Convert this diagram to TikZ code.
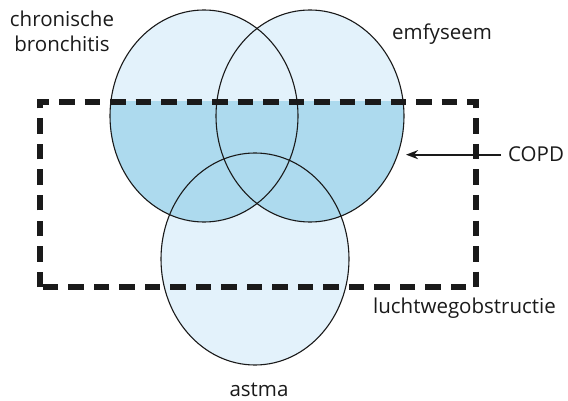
\documentclass[tikz,border=0pt]{standalone}
\usepackage{fontspec}
\setmainfont{Open Sans}
\usetikzlibrary{arrows.meta,shapes.geometric}
\definecolor{lightfill}{HTML}{E3F2FB}
\definecolor{darkfill}{HTML}{ADDAEE}
\definecolor{ink}{HTML}{1A1A1A}
\tikzset{
  lbl/.style={inner sep=0pt, font=\fontsize{20.5}{25}\selectfont, text=ink},
  ring/.style={draw=ink, line width=1.1pt, ellipse, minimum width=188pt, minimum height=212pt, inner sep=0pt},
  copdbox/.style={draw=ink, line width=5.5pt, dash pattern=on 15.5pt off 10pt},
  pointer/.style={draw=ink, line width=2pt, -{Stealth[length=12pt,width=9pt]}}
}
\begin{document}
\begin{tikzpicture}[x=1pt,y=-1pt]
\useasboundingbox (0,0) rectangle (568,401);
% light fills
\fill[lightfill] (204,116) ellipse [x radius=94pt, y radius=106pt];
\fill[lightfill] (310,116) ellipse [x radius=94pt, y radius=106pt];
\fill[lightfill] (255,259) ellipse [x radius=94pt, y radius=106pt];
% dark fill inside the rectangle
\begin{scope}
  \clip (40,102) rectangle (476,287);
  \fill[darkfill] (204,116) ellipse [x radius=94pt, y radius=106pt];
  \fill[darkfill] (310,116) ellipse [x radius=94pt, y radius=106pt];
\end{scope}
% outlines
\node[ring] (L) at (204,116) {};
\node[ring] (R) at (310,116) {};
\node[ring] (B) at (255,259) {};
% dashed rectangle
\draw[copdbox] (40,287) -- (40,102) -- (476,102) -- (476,287) -- cycle;
% labels
\node[lbl, anchor=base] (cb1) at (62,27) {chronische};
\node[lbl, anchor=base] (cb2) at (62,52) {bronchitis};
\node[lbl, anchor=base west] (emf) at (392,40) {emfyseem};
\node[lbl, anchor=base west] (copd) at (508,162) {COPD};
\node[lbl, anchor=base west] (lwo) at (373,313) {luchtwegobstructie};
\node[lbl, anchor=base] (ast) at (259,396) {astma};
\coordinate (tip) at (406,155);
\draw[pointer, shorten <=7pt] (copd.west) -- (copd.west -| tip);
\end{tikzpicture}
\end{document}
